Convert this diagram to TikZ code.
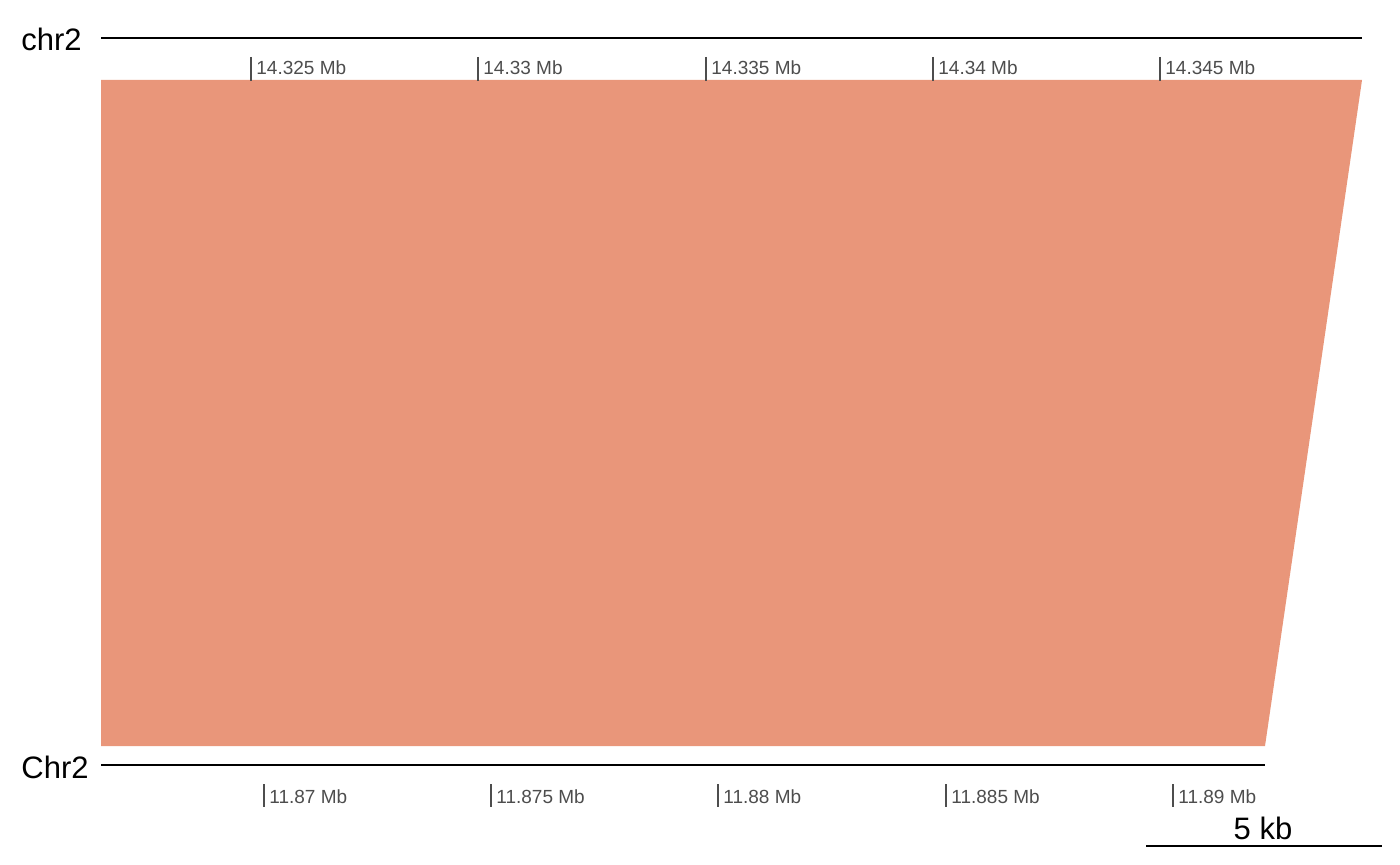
\documentclass[tikz,border=0pt]{standalone}
\usepackage{fontspec}
\setmainfont{Liberation Sans}
\definecolor{salmonfill}{RGB}{233,150,122}
\definecolor{tickgray}{RGB}{77,77,77}
\tikzset{
  seqline/.style={draw=black, line width=1pt},
  tickmark/.style={draw=tickgray, line width=1pt},
  ticklabel/.style={anchor=base west, inner sep=0pt, text=tickgray, font=\fontsize{9.5}{11}\selectfont},
  chrlabel/.style={anchor=east, inner sep=0pt, font=\fontsize{15.5}{18}\selectfont},
}
\begin{document}
\begin{tikzpicture}[x=0.5pt, y=-0.5pt]
\useasboundingbox (0,0) rectangle (1400,865);
% synteny block
\fill[salmonfill] (101,80) -- (1362,80) -- (1265,746) -- (101,746) -- cycle;
% top sequence
\coordinate (t0) at (101,38);
\coordinate (t1) at (1362,38);
\draw[seqline] (t0) -- (t1);
\node[chrlabel] (chrA) at (82,39) {chr2};
\foreach \x/\lab [count=\i] in {251/14.325, 478/14.33, 706/14.335, 933/14.34, 1160/14.345}{
  \coordinate (ta\i) at (\x,57);
  \coordinate (tb\i) at (\x,81);
  \draw[tickmark] (ta\i) -- (tb\i);
  \node[ticklabel] (tl\i) at (\x+5,75) {\lab\ Mb};
}
% bottom sequence
\coordinate (b0) at (101,765);
\coordinate (b1) at (1265,765);
\draw[seqline] (b0) -- (b1);
\node[chrlabel] (chrB) at (89,767) {Chr2};
\foreach \x/\lab [count=\i] in {264/11.87, 491/11.875, 718/11.88, 946/11.885, 1173/11.89}{
  \coordinate (ba\i) at (\x,784);
  \coordinate (bb\i) at (\x,807);
  \draw[tickmark] (ba\i) -- (bb\i);
  \node[ticklabel] (bl\i) at (\x+5,803) {\lab\ Mb};
}
% scale bar
\coordinate (s0) at (1146,846);
\coordinate (s1) at (1382,846);
\draw[seqline] (s0) -- (s1);
\node[anchor=base, inner sep=0pt, font=\fontsize{15.5}{18}\selectfont] (scale) at (1263,839) {5 kb};
\end{tikzpicture}
\end{document}
